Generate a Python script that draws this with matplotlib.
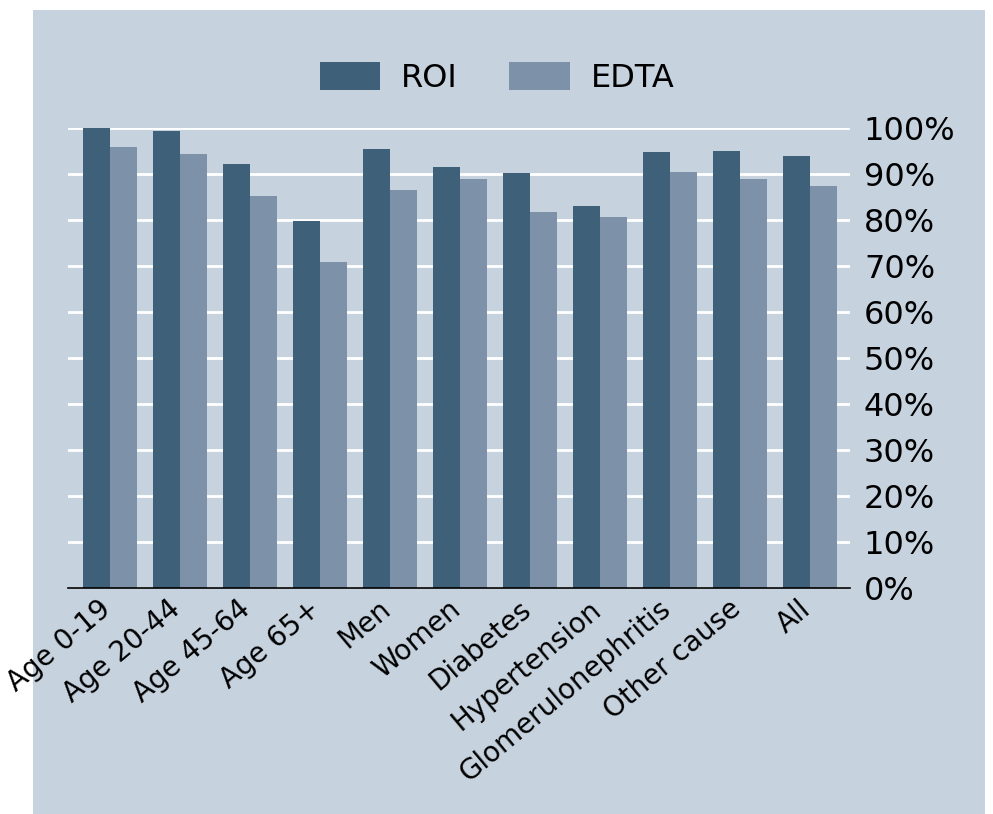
import matplotlib
matplotlib.use("Agg")
import matplotlib.pyplot as plt
import matplotlib.transforms as mtransforms
import numpy as np
from matplotlib.patches import Rectangle
from matplotlib.ticker import PercentFormatter

# ── Data ───────────────────────────────────────────────────────
categories = ["Age 0-19", "Age 20-44", "Age 45-64", "Age 65+", "Men", "Women",
              "Diabetes", "Hypertension", "Glomerulonephritis", "Other cause", "All"]
roi  = [100.0, 99.3, 92.1, 79.8, 95.5, 91.5, 90.2, 83.0, 94.7, 95.0, 94.0]
edta = [95.8, 94.3, 85.2, 70.9, 86.5, 88.9, 81.7, 80.6, 90.5, 88.9, 87.3]
yticks = [0, 10, 20, 30, 40, 50, 60, 70, 80, 90, 100]

DARK  = "#3e6079"
LIGHT = "#7d92a8"
PANEL = "#c6d2de"
FS = 23

W, H = 993, 814
fig = plt.figure(figsize=(W / 100, H / 100), dpi=100, facecolor="white")

# light panel behind the chart
fig.patches.append(Rectangle((33 / W, 0), (985 - 33) / W, 1 - 10 / H,
                             transform=fig.transFigure, facecolor=PANEL,
                             edgecolor="none", zorder=-1))

ax = fig.add_axes([68 / W, 1 - 588 / H, (850 - 68) / W, (588 - 128) / H])
ax.set_facecolor("none")

x = np.arange(len(categories))
bw = 0.38
ax.bar(x - bw / 2, roi, width=bw, color=DARK, label="ROI", zorder=3)
ax.bar(x + bw / 2, edta, width=bw, color=LIGHT, label="EDTA", zorder=3)

ax.set_xlim(-0.6, 10.571)
ax.set_ylim(0, 100)
ax.set_yticks(yticks)
ax.yaxis.set_major_formatter(PercentFormatter(decimals=0))
ax.yaxis.tick_right()
ax.tick_params(axis="y", length=0, pad=10, labelsize=FS)
ax.tick_params(axis="x", length=0, pad=5)
ax.grid(axis="y", color="white", linewidth=2, zorder=1)
ax.set_axisbelow(True)

for side in ["left", "right", "top"]:
    ax.spines[side].set_visible(False)
ax.spines["bottom"].set_color("black")
ax.spines["bottom"].set_linewidth(1.2)
ax.spines["bottom"].set_zorder(4)

ax.set_xticks(x)
ax.set_xticklabels(categories, rotation=40, ha="right", va="top",
                   rotation_mode="anchor", fontsize=20)
shift = mtransforms.ScaledTranslation(-12 / 100, 0, fig.dpi_scale_trans)
for lbl in ax.get_xticklabels():
    lbl.set_transform(lbl.get_transform() + shift)

fig.legend(loc="center", bbox_to_anchor=(497 / W, 1 - 78 / H), ncol=2,
           frameon=False, fontsize=FS, handlelength=1.9, handleheight=0.95,
           handletextpad=0.65, columnspacing=1.6)

plt.savefig("out.png", dpi=100, facecolor="white")
plt.close()
